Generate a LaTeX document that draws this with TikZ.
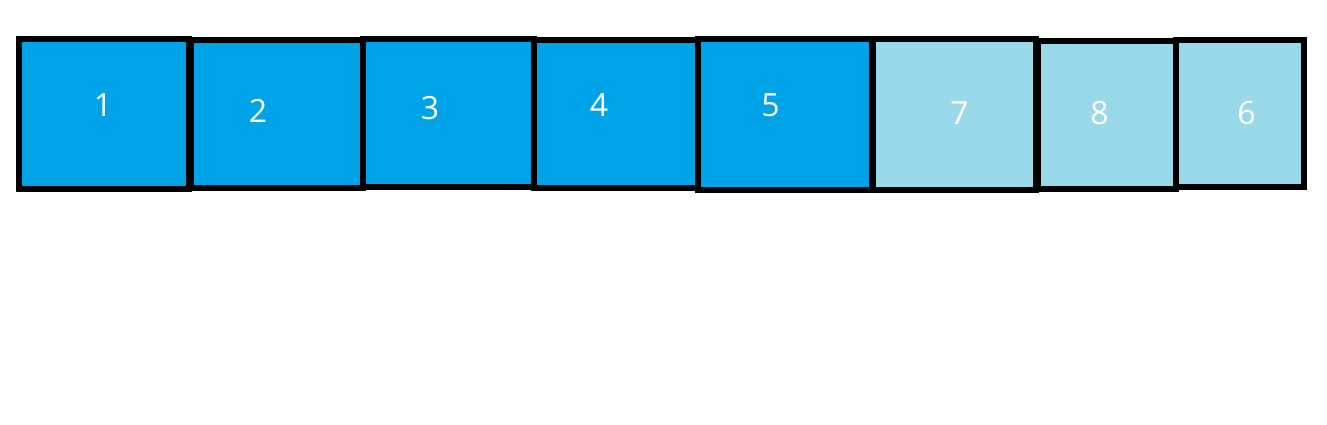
\documentclass[tikz,border=0pt]{standalone}
\usepackage{fontspec}
\setmainfont{Open Sans}
\definecolor{darkcell}{RGB}{0,162,232}
\definecolor{lightcell}{RGB}{153,217,234}
\tikzset{
  cell/.style={draw=black, line width=6pt, inner sep=0pt, outer sep=0pt},
  dcell/.style={cell, fill=darkcell},
  lcell/.style={cell, fill=lightcell},
  num/.style={text=white, font=\fontsize{32}{32}\selectfont, inner sep=0pt}
}
\newcommand{\cellbox}[7]{% style, name, x1, y1, x2, y2, unused
  \node[#1, minimum width={#5-#3}, minimum height={#6-#4}] (#2) at ({(#3+#5)/2},{(#4+#6)/2}) {};}
\begin{document}
\begin{tikzpicture}[x=1pt,y=-1pt]
\useasboundingbox[fill=white] (0,0) rectangle (1327,424);
\cellbox{dcell}{b1}{19}{39}{188.5}{189}{}
\cellbox{dcell}{b2}{191}{39.5}{363}{188}{}
\cellbox{dcell}{b3}{363}{39}{533.5}{187}{}
\cellbox{dcell}{b4}{533.5}{39.5}{697.5}{188}{}
\cellbox{dcell}{b5}{697.5}{39}{871.5}{190}{}
\cellbox{lcell}{b7}{872.5}{38.5}{1035.5}{190}{}
\cellbox{lcell}{b8}{1037.5}{40.5}{1175.5}{189}{}
\cellbox{lcell}{b6}{1175.5}{39.5}{1303.5}{187}{}
\node[num] (t1) at (103,105) {1};
\node[num] (t2) at (258,110.5) {2};
\node[num] (t3) at (430,108) {3};
\node[num] (t4) at (599,105) {4};
\node[num] (t5) at (770.5,105.5) {5};
\node[num] (t7) at (959.5,113.5) {7};
\node[num] (t8) at (1099.5,113.5) {8};
\node[num] (t6) at (1246.5,113.5) {6};
\end{tikzpicture}
\end{document}
